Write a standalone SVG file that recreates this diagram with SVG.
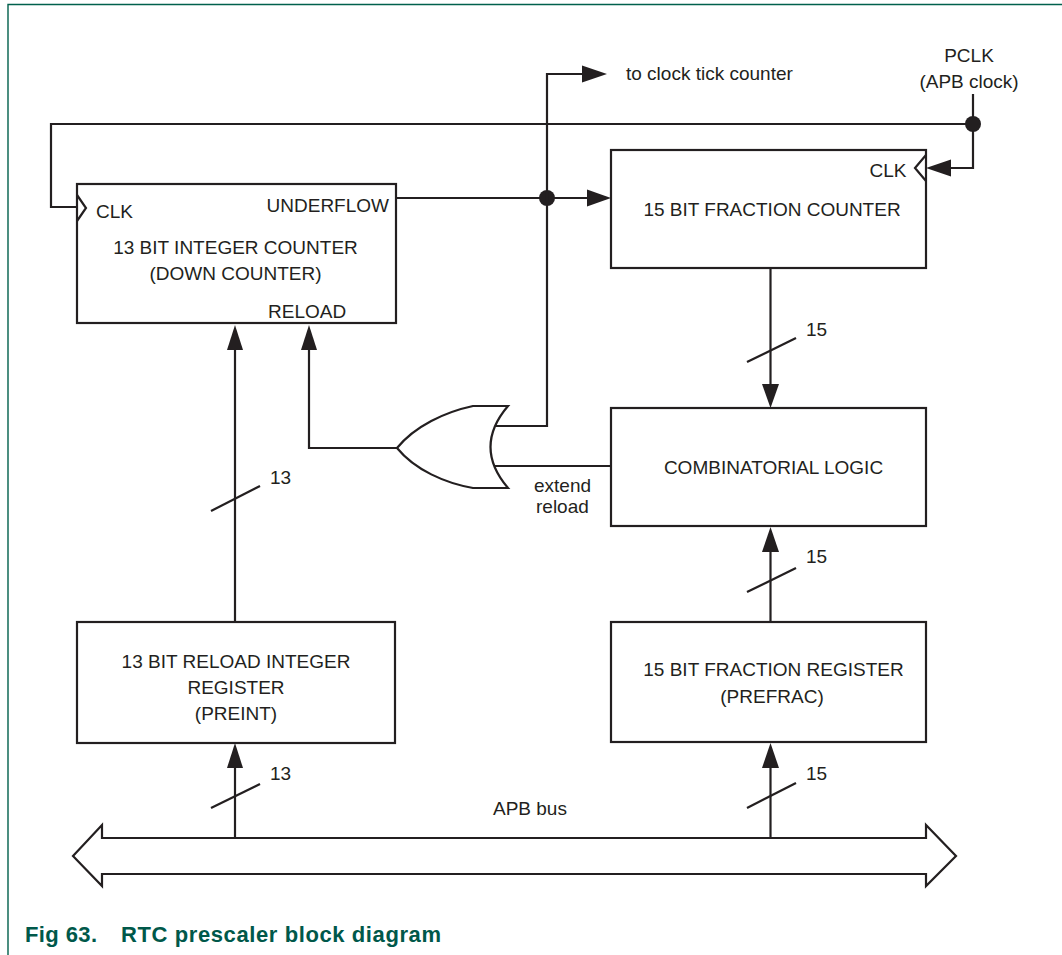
<svg xmlns="http://www.w3.org/2000/svg" width="1062" height="955" viewBox="0 0 1062 955">
<style>
.box{fill:#fff;stroke:#231f20;stroke-width:2.2}
.ln{fill:none;stroke:#231f20;stroke-width:2.2}
.ah{fill:#231f20;stroke:none}
.t{font-family:"Liberation Sans",Arial,sans-serif;font-size:19px;fill:#231f20}
.m{text-anchor:middle}
.e{text-anchor:end}
.cap{font-family:"Liberation Sans",Arial,sans-serif;font-size:22px;font-weight:bold;fill:#00584a}
</style>
<rect width="1062" height="955" fill="#fff"/>
<g id="frame">
<path d="M8,955 V4.5 H1062" fill="none" stroke="#00604c" stroke-width="1.4"/>
</g>
<g id="connectors">
<!-- PCLK feedback to integer counter CLK -->
<polyline class="ln" points="973,124 51,124 51,207 77,207"/>
<!-- PCLK to fraction counter CLK -->
<polyline class="ln" points="973,94 973,168 950,168"/>
<polygon class="ah" points="926,168 951,159.5 951,176.5"/>
<circle cx="973" cy="124" r="8" class="ah"/>
<!-- underflow to fraction counter -->
<line class="ln" x1="396" y1="198" x2="588" y2="198"/>
<polygon class="ah" points="611,198 587,189.5 587,206.5"/>
<circle cx="547" cy="198" r="8" class="ah"/>
<!-- vertical underflow branch to clock tick counter and OR gate -->
<polyline class="ln" points="495,426 547,426 547,74 583,74"/>
<polygon class="ah" points="607,74 582,65.5 582,82.5"/>
<!-- fraction counter to combinatorial logic -->
<line class="ln" x1="770.5" y1="268" x2="770.5" y2="385"/>
<polygon class="ah" points="770.5,408 762,384 779,384"/>
<line class="ln" x1="747" y1="362" x2="796" y2="338"/>
<!-- combinatorial logic to OR -->
<line class="ln" x1="611" y1="466" x2="495" y2="466"/>
<!-- OR output to RELOAD -->
<polyline class="ln" points="397,448 309,448 309,349"/>
<polygon class="ah" points="309,325 301,350 317,350"/>
<!-- reload register to integer counter -->
<line class="ln" x1="235" y1="622" x2="235" y2="349"/>
<polygon class="ah" points="235,325 227,350 243,350"/>
<line class="ln" x1="211" y1="511" x2="260" y2="486"/>
<!-- fraction register to combinatorial logic -->
<line class="ln" x1="770.5" y1="622" x2="770.5" y2="551"/>
<polygon class="ah" points="770.5,527 762,552 779,552"/>
<line class="ln" x1="747" y1="592" x2="796" y2="568"/>
<!-- bus to reload register -->
<line class="ln" x1="235" y1="838" x2="235" y2="767"/>
<polygon class="ah" points="235,743 227,768 243,768"/>
<line class="ln" x1="211" y1="808" x2="260" y2="784"/>
<!-- bus to fraction register -->
<line class="ln" x1="770.5" y1="838" x2="770.5" y2="767"/>
<polygon class="ah" points="770.5,743 762,768 779,768"/>
<line class="ln" x1="747" y1="808" x2="796" y2="783"/>
</g>
<g id="apb-bus">
<polygon class="box" points="73,856 102,825 102,838 926,838 926,825 956,856 926,886 926,874 102,874 102,886"/>
<text class="t" x="493" y="815">APB bus</text>
</g>
<g id="integer-counter">
<rect class="box" x="77" y="184" width="319" height="139"/>
<polyline class="ln" points="77,195 86,208 77,221"/>
<text class="t" x="96" y="218">CLK</text>
<text class="t e" x="389" y="212">UNDERFLOW</text>
<text class="t m" x="235.5" y="254">13 BIT INTEGER COUNTER</text>
<text class="t m" x="235.5" y="280">(DOWN COUNTER)</text>
<text class="t" x="268" y="318">RELOAD</text>
</g>
<g id="fraction-counter">
<rect class="box" x="611" y="150" width="315" height="118"/>
<polyline class="ln" points="926,155 915,168 926,181"/>
<text class="t" x="869.5" y="177">CLK</text>
<text class="t m" x="772" y="216">15 BIT FRACTION COUNTER</text>
</g>
<g id="clock-tick-label">
<text class="t" x="626" y="80">to clock tick counter</text>
</g>
<g id="pclk-label">
<text class="t m" x="969" y="62">PCLK</text>
<text class="t m" x="969" y="88">(APB clock)</text>
</g>
<g id="or-gate">
<path class="box" d="M473,406 L508,406 Q473,447 508,488 L473,488 C445,483 415,470 397,448 C415,426 445,412 473,406 Z"/>
<text class="t" x="534" y="492">extend</text>
<text class="t" x="536" y="513">reload</text>
</g>
<g id="combinatorial-logic">
<rect class="box" x="611" y="408" width="315" height="118"/>
<text class="t m" x="773.5" y="474">COMBINATORIAL LOGIC</text>
</g>
<g id="reload-register">
<rect class="box" x="77" y="622" width="318" height="121"/>
<text class="t m" x="236" y="668">13 BIT RELOAD INTEGER</text>
<text class="t m" x="236" y="694">REGISTER</text>
<text class="t m" x="236" y="720">(PREINT)</text>
</g>
<g id="fraction-register">
<rect class="box" x="611" y="622" width="315" height="120"/>
<text class="t m" x="773.5" y="676">15 BIT FRACTION REGISTER</text>
<text class="t m" x="772" y="703">(PREFRAC)</text>
</g>
<g id="bus-labels">
<text class="t" x="806" y="336">15</text>
<text class="t" x="270" y="484">13</text>
<text class="t" x="806" y="563">15</text>
<text class="t" x="270" y="780">13</text>
<text class="t" x="806" y="780">15</text>
</g>
<g id="caption">
<text class="cap" x="25" y="942" textLength="72" lengthAdjust="spacing">Fig 63.</text>
<text class="cap" x="121" y="942" textLength="320" lengthAdjust="spacing">RTC prescaler block diagram</text>
</g>
</svg>
